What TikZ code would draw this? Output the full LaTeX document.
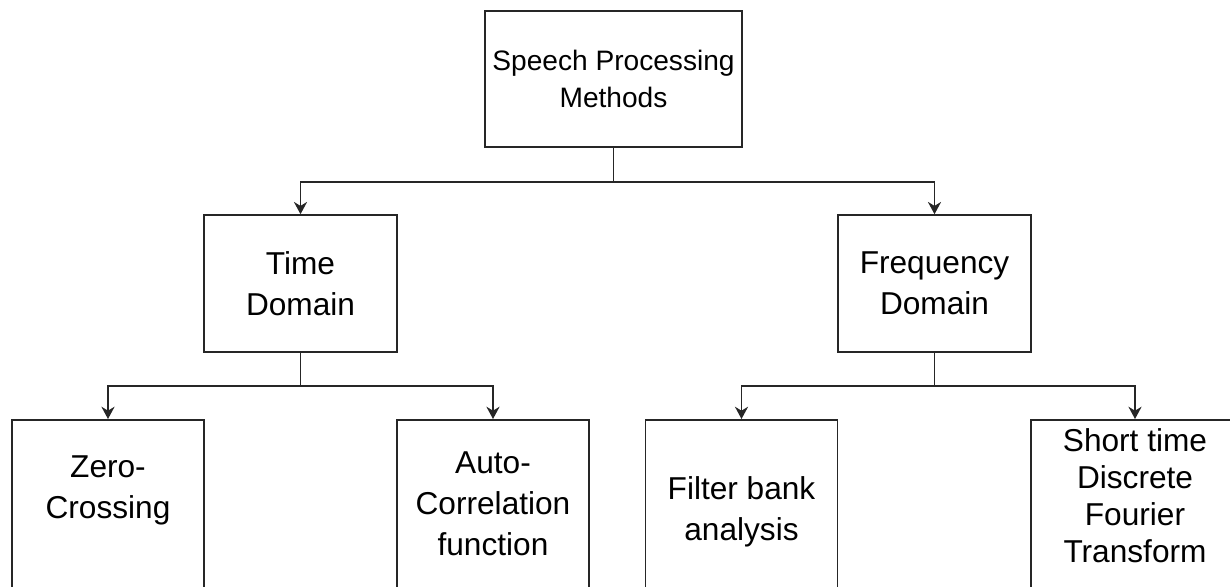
\documentclass[tikz,border=0pt]{standalone}
\usepackage{fontspec}
\setmainfont{Liberation Sans}
\usetikzlibrary{positioning,arrows.meta}

\begin{document}
\begin{tikzpicture}[
  box/.style={draw=black!85, line width=0.9pt, align=center, inner sep=0pt, minimum width=3.86cm, minimum height=2.74cm, font=\fontsize{18}{23.3}\selectfont},
  leaf/.style={box, anchor=north, minimum width=3.84cm, minimum height=4.6cm},
  txt/.style={align=center, inner sep=0pt, font=\fontsize{18}{23.3}\selectfont},
  arr/.style={-{Stealth[length=7pt, width=7.5pt]}, line width=0.9pt, draw=black!85},
]
  \useasboundingbox (0,0) rectangle (24.6,-11.72);
  % root
  \node[box, minimum width=5.14cm, minimum height=2.72cm, font=\fontsize{16}{20.9}\selectfont] (spm) at (12.27,-1.58) {Speech Processing\\Methods};
  % domains
  \node[box] (td) at (6.01,-5.67)  {Time\\Domain};
  \node[box] (fd) at (18.69,-5.67) {Frequency\\Domain};
  % methods (boxes run on past the page bottom)
  \node[leaf] (zc) at (2.16,-8.38)  {};
  \node[leaf] (ac) at (9.86,-8.38)  {};
  \node[leaf] (fb) at (14.83,-8.38) {};
  \node[leaf, minimum width=4.16cm] (st) at (22.7,-8.38) {};
  \node[txt] (zct) at (2.16,-9.8)   {Zero-\\Crossing};
  \node[txt] (act) at (9.86,-10.08) {Auto-\\Correlation\\function};
  \node[txt] (fbt) at (14.83,-10.24) {Filter bank\\analysis};
  \node[txt, font=\fontsize{18}{21}\selectfont] (stt) at (22.7,-9.92) {Short time\\Discrete\\Fourier\\Transform};
  % connectors
  \draw[arr] (spm.south) -- ++(0,-0.68) -| (td.north);
  \draw[arr] (spm.south) -- ++(0,-0.68) -| (fd.north);
  \draw[arr] (td.south) -- ++(0,-0.66) -| (zc.north);
  \draw[arr] (td.south) -- ++(0,-0.66) -| (ac.north);
  \draw[arr] (fd.south) -- ++(0,-0.66) -| (fb.north);
  \draw[arr] (fd.south) -- ++(0,-0.66) -| (st.north);
\end{tikzpicture}
\end{document}
